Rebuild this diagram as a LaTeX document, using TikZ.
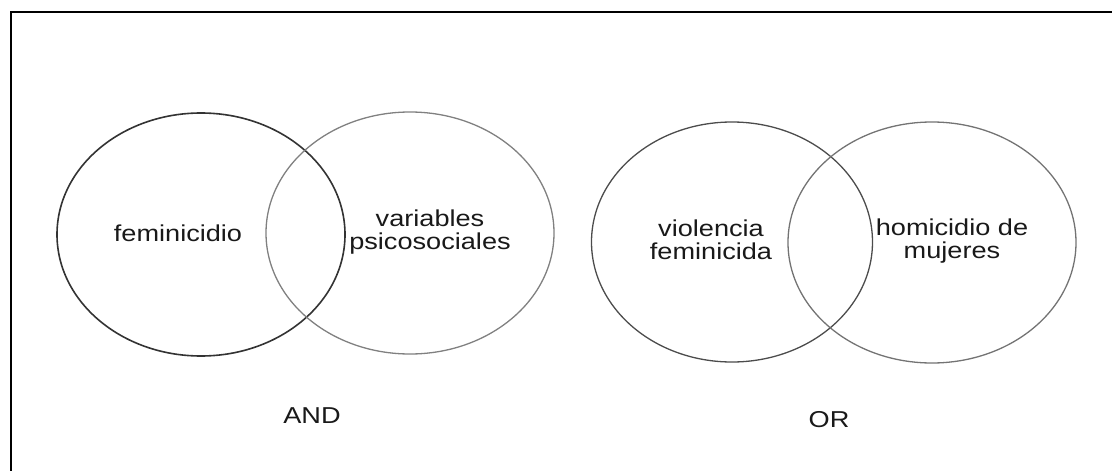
\documentclass[tikz,border=0pt]{standalone}
\usepackage{fontspec}
\setmainfont[FakeStretch=1.18]{Liberation Sans}
\usetikzlibrary{shapes.geometric}

\begin{document}
\begin{tikzpicture}[x=1pt,y=-1pt,
  lbl/.style={inner sep=0,text=black!90,font=\fontsize{23}{23}\selectfont,align=center},
  vset/.style={ellipse,draw,inner sep=0,line width=1.3}]
%%
\newcommand{\venn}[5][]{\node[vset,#1,minimum width=#4,minimum height=#5] (#2) at (#3) {};}
%%
\useasboundingbox (0,0) rectangle (1112,471);
\clip (0,0) rectangle (1112,471);
\draw[line width=2] (10.5,12) rectangle (1140,500);
%
\venn[draw=black!80,line width=1.6]{fem}{201,234.5}{288}{243}
\venn[draw=black!50]{psi}{410,233}{288}{242}
\venn[draw=black!70]{viol}{732,242}{281}{240}
\venn[draw=black!55]{hom}{932,242.5}{288}{241}
%
\node[lbl,anchor=base] (tfem) at (178,241) {feminicidio};
\node[lbl] (tpsi) at (430,232.5) {variables\\psicosociales};
\node[lbl] (tviol) at (711,239.5) {violencia\\feminicida};
\node[lbl] (thom) at (952,241.5) {homicidio de\\mujeres};
%
\node[lbl,anchor=base] (and) at (312,423) {AND};
\node[lbl,anchor=base] (or) at (829,427) {OR};
\end{tikzpicture}
\end{document}
